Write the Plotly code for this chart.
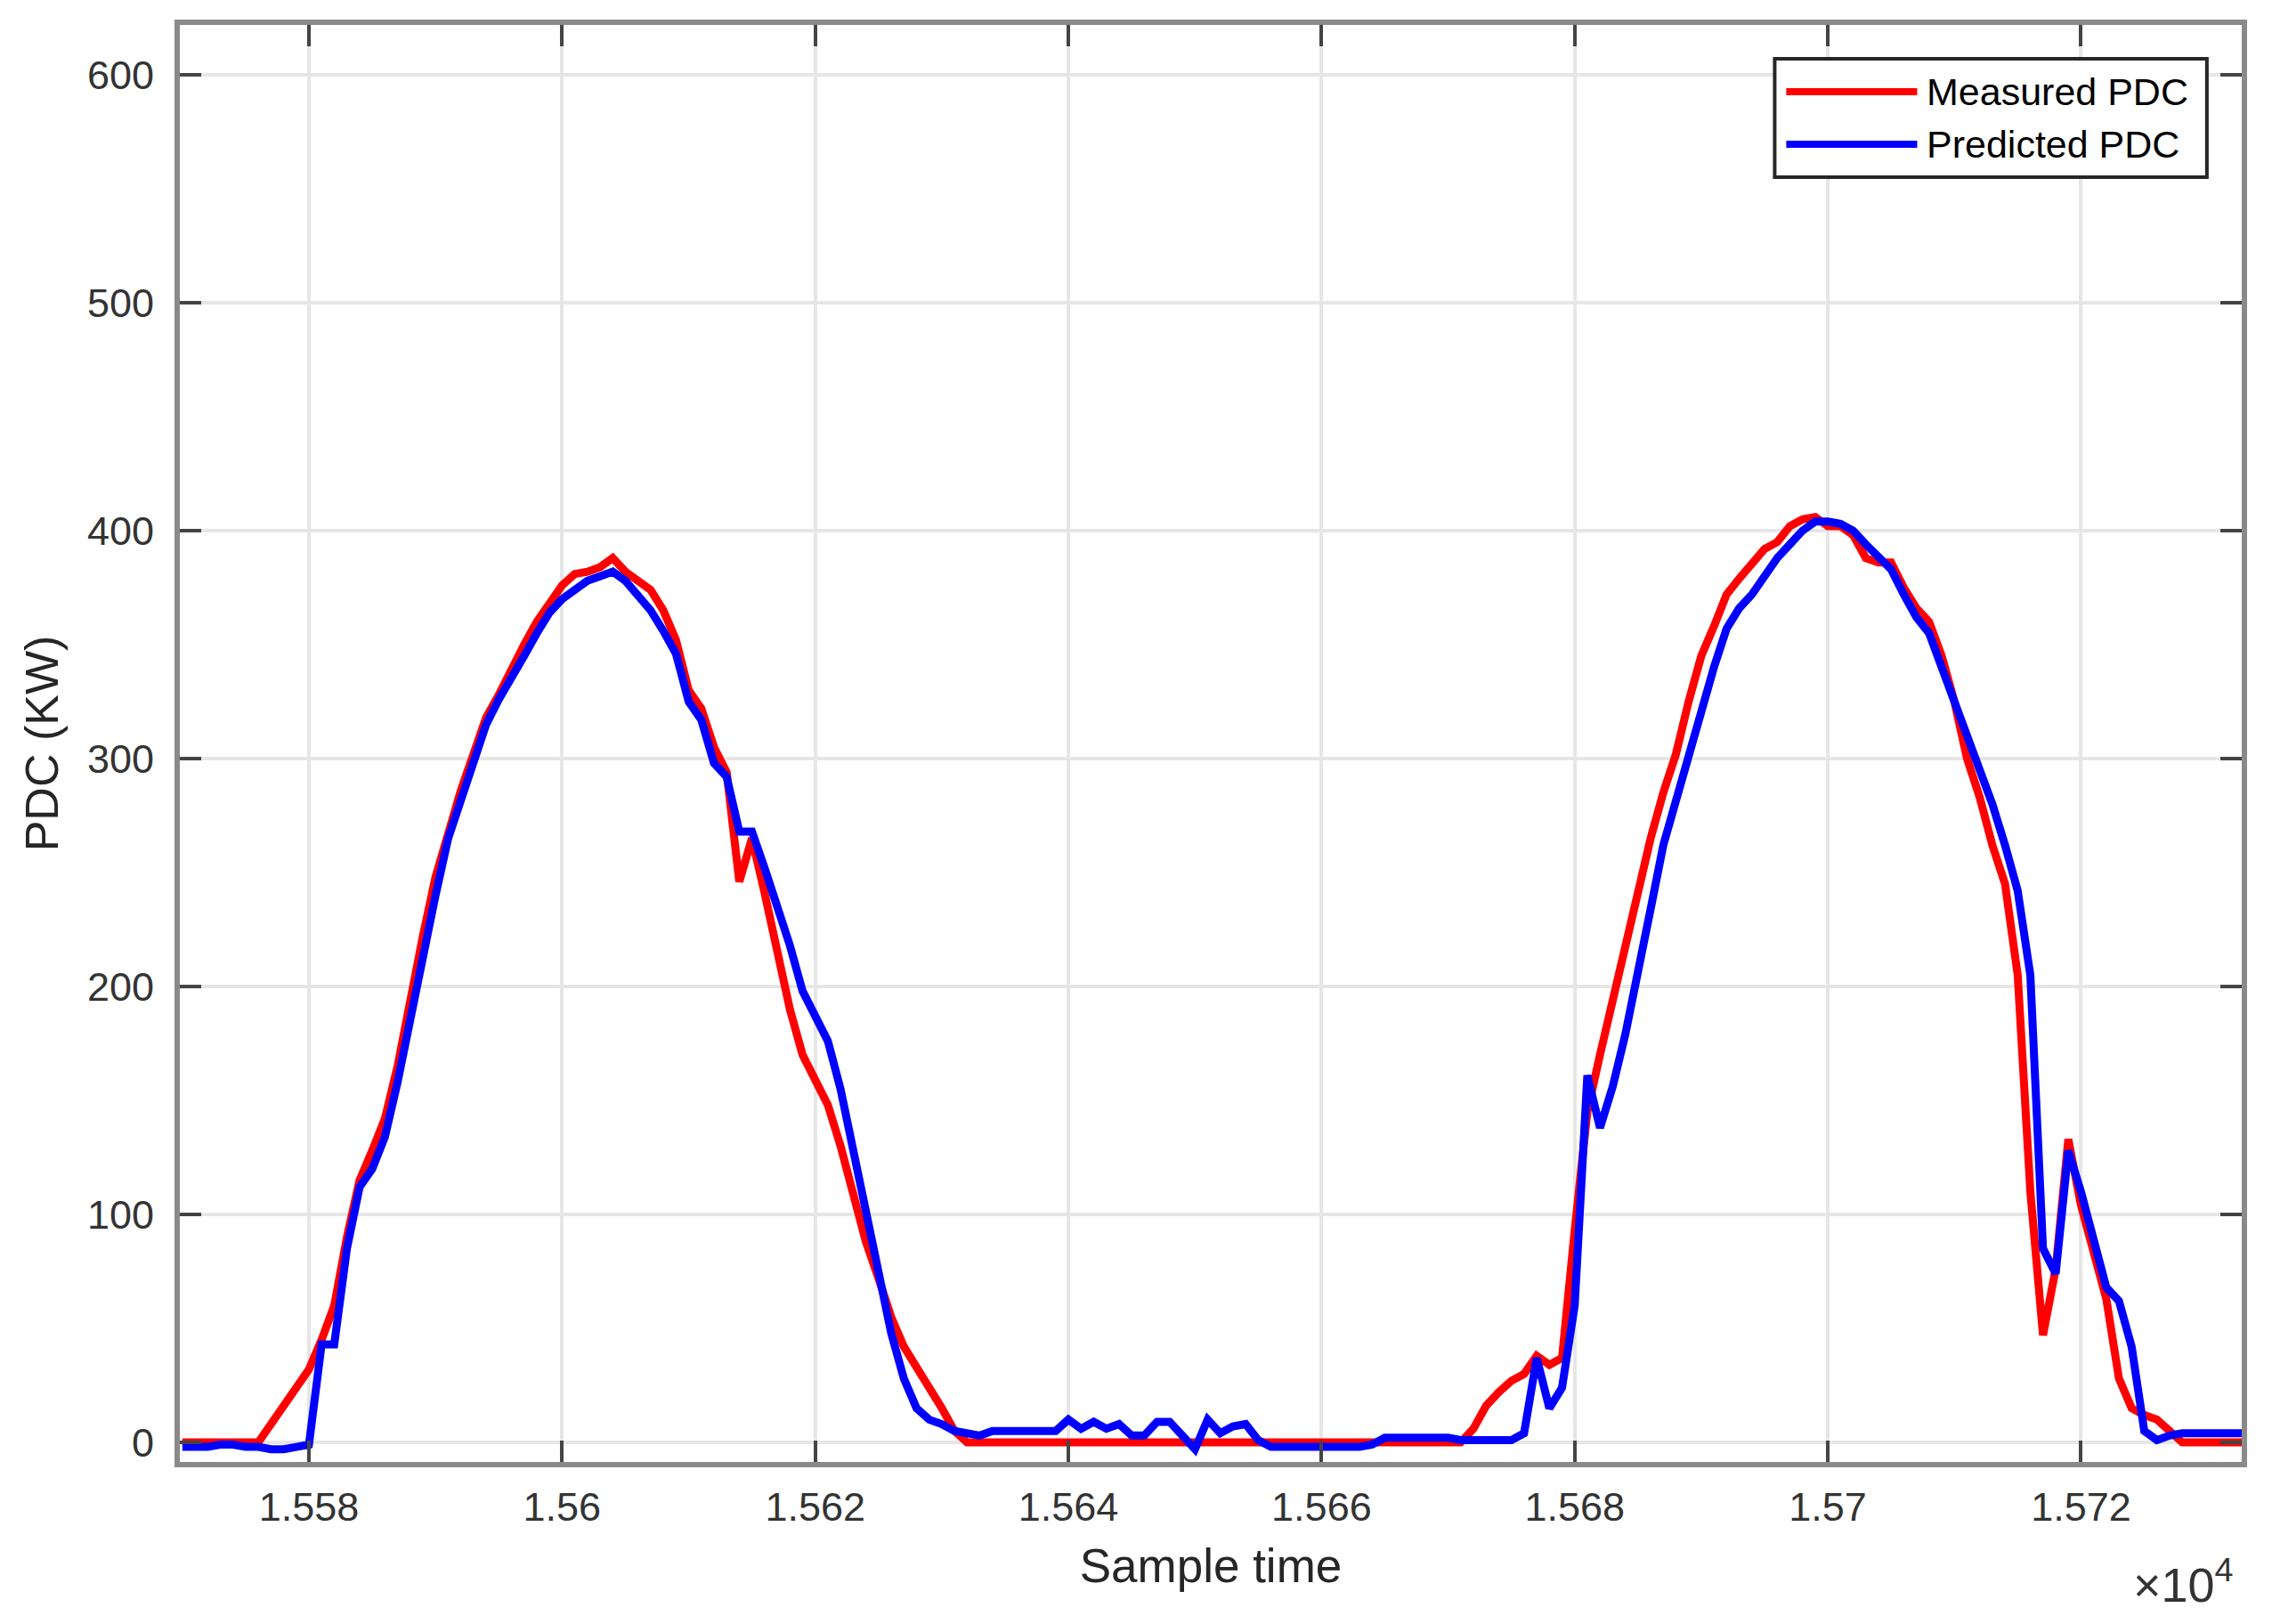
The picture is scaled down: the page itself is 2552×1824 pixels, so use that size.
import plotly.graph_objects as go

# Sample times (integer samples)
sample_start = 15570
sample_end = 15733
sample_time = list(range(sample_start, sample_end + 1))

measured_pdc = [
    0, 0, 0, 0, 0, 0, 0, 8, 16, 24,            # 15570-15579
    32, 45, 60, 90, 115, 128, 142, 165, 195, 222,  # 15580-15589
    248, 268, 286, 302, 318, 328, 340, 350, 360, 368,  # 15590-15599
    376, 381, 382, 384, 388, 382, 378, 374, 365, 352,  # 15600-15609
    330, 322, 305, 294, 246, 265, 241, 215, 190, 170,  # 15610-15619
    158, 148, 130, 108, 88, 72, 55, 42, 33, 25,        # 15620-15629
    15, 5, 0, 0, 0, 0, 0, 0, 0, 0,                     # 15630-15639
    0, 0, 0, 0, 0, 0, 0, 0, 0, 0,                      # 15640-15649
    0, 0, 0, 0, 0, 0, 0, 0, 0, 0,                      # 15650-15659
    0, 0, 0, 0, 0, 0, 0, 0, 0, 0,                      # 15660-15669
    0, 0, 6, 16, 22, 27, 30, 38, 34, 37,               # 15670-15679
    93, 145, 170, 194, 216, 242, 265, 285, 302, 325,   # 15680-15689
    345, 358, 372, 379, 385, 392, 395, 402, 405, 406,  # 15690-15699
    402, 402, 398, 388, 386, 386, 375, 366, 360, 345,  # 15700-15709
    325, 300, 283, 262, 245, 205, 110, 47, 76, 133,    # 15710-15719
    104, 85, 63, 28, 15, 12, 10, 5, 0, 0,              # 15720-15729
    0, 0, 0, 0,                                        # 15730-15733
]

predicted_pdc = [
    -2, -2, -2, -1, -1, -2, -2, -3, -3, -2,            # 15570-15579
    -1, 43, 43, 85, 112, 120, 134, 158, 186, 213,      # 15580-15589
    240, 265, 282, 300, 315, 326, 335, 345, 355, 364,  # 15590-15599
    370, 374, 378, 380, 382, 378, 372, 365, 356, 346,  # 15600-15609
    325, 317, 298, 292, 268, 268, 252, 235, 218, 198,  # 15610-15619
    186, 176, 155, 128, 104, 75, 48, 28, 15, 10,       # 15620-15629
    8, 5, 4, 3, 5, 5, 5, 5, 5, 5,                      # 15630-15639
    10, 6, 9, 6, 8, 3, 3, 9, 9, 3,                     # 15640-15649
    -3, 10, 4, 7, 8, 1, -2, -2, -2, -2,                # 15650-15659
    -2, -2, -2, -2, -1, 2, 2, 2, 2, 2,                 # 15660-15669
    2, 1, 1, 1, 1, 1, 4, 37, 15, 24,                   # 15670-15679
    60, 161, 138, 156, 179, 205, 234, 262, 282, 302,   # 15680-15689
    323, 340, 357, 366, 372, 380, 388, 394, 400, 404,  # 15690-15699
    404, 403, 400, 394, 389, 383, 372, 362, 355, 340,  # 15700-15709
    325, 310, 295, 280, 262, 242, 205, 85, 74, 128,    # 15710-15719
    110, 88, 68, 62, 42, 5, 1, 3, 4, 4,                # 15720-15729
    4, 4, 4, 4,                                        # 15730-15733
]

x_tick_vals = [15580, 15600, 15620, 15640, 15660, 15680, 15700, 15720]
x_tick_text = ["1.558", "1.56", "1.562", "1.564", "1.566", "1.568", "1.57", "1.572"]
y_tick_vals = [0, 100, 200, 300, 400, 500, 600]
y_tick_text = ["0", "100", "200", "300", "400", "500", "600"]

series_names = ["Measured PDC", "Predicted PDC"]
series_colors = ["#ff0000", "#0000ff"]

FONT = "Liberation Sans, Arial, sans-serif"

fig = go.Figure()
fig.add_trace(go.Scatter(x=sample_time, y=measured_pdc, mode="lines",
                         name=series_names[0],
                         line=dict(color=series_colors[0], width=9)))
fig.add_trace(go.Scatter(x=sample_time, y=predicted_pdc, mode="lines",
                         name=series_names[1],
                         line=dict(color=series_colors[1], width=9)))

axis_common = dict(
    showline=True, linecolor="#8a8a8a", linewidth=6, mirror="ticks",
    ticks="inside", ticklen=24, tickwidth=4, tickcolor="#444444",
    showgrid=True, gridcolor="#e6e6e6", gridwidth=4, zeroline=False,
    tickfont=dict(family=FONT, size=45, color="#333333"),
)

fig.update_layout(
    width=2552, height=1824,
    paper_bgcolor="white", plot_bgcolor="white",
    margin=dict(l=194, r=42, t=20, b=190),
    showlegend=False,
    xaxis=dict(range=[15569.8, 15732.7], tickmode="array",
               tickvals=x_tick_vals, ticktext=x_tick_text,
               ticklabelstandoff=6,
               title=dict(text="Sample time", standoff=25,
                          font=dict(family=FONT, size=53, color="#262626")),
               **axis_common),
    yaxis=dict(range=[-8.6, 621.9], tickmode="array",
               tickvals=y_tick_vals, ticktext=y_tick_text,
               ticklabelstandoff=14,
               title=dict(text="PDC (KW)", standoff=18,
                          font=dict(family=FONT, size=52, color="#262626")),
               **axis_common),
)

# x10^4 exponent label
fig.add_annotation(xref="paper", yref="paper", x=0.997, y=-0.083,
                   xanchor="right", yanchor="middle", showarrow=False,
                   text="×10<sup>4</sup>",
                   font=dict(family=FONT, size=54, color="#333333"))

# Legend box drawn as in the reference (long line samples)
lx0, lx1 = 0.7735, 0.9831
ly0, ly1 = 0.8941, 0.9765
fig.add_shape(type="rect", xref="paper", yref="paper",
              x0=lx0, x1=lx1, y0=ly0, y1=ly1,
              line=dict(color="#262626", width=4), fillcolor="white", layer="above")
row_y = [0.9535, 0.9170]
for name, color, yy in zip(series_names, series_colors, row_y):
    fig.add_shape(type="line", xref="paper", yref="paper",
                  x0=0.7791, x1=0.8426, y0=yy, y1=yy,
                  line=dict(color=color, width=8), layer="above")
    fig.add_annotation(xref="paper", yref="paper", x=0.8461, y=yy,
                       xanchor="left", yanchor="middle", showarrow=False,
                       text=name, font=dict(family=FONT, size=43, color="#000000"))

fig.write_html("out.html")
